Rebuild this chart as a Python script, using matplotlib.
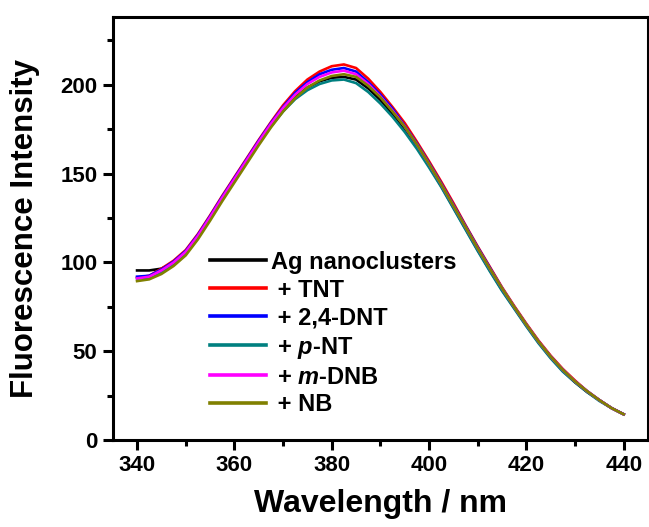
import numpy as np
import matplotlib
matplotlib.use("Agg")
import matplotlib.pyplot as plt
from matplotlib.ticker import MultipleLocator

plt.rcParams['font.family'] = ['Liberation Sans', 'DejaVu Sans']
plt.rcParams['font.weight'] = 'bold'
plt.rcParams['mathtext.fontset'] = 'custom'
plt.rcParams['mathtext.it'] = 'Liberation Sans:italic'
plt.rcParams['mathtext.rm'] = 'Liberation Sans:bold'

# wavelength grid (nm), 340-440 every 2.5 nm
wavelength = [340.0, 342.5, 345.0, 347.5, 350.0, 352.5, 355.0, 357.5, 360.0, 362.5,
              365.0, 367.5, 370.0, 372.5, 375.0, 377.5, 380.0, 382.5, 385.0, 387.5,
              390.0, 392.5, 395.0, 397.5, 400.0, 402.5, 405.0, 407.5, 410.0, 412.5,
              415.0, 417.5, 420.0, 422.5, 425.0, 427.5, 430.0, 432.5, 435.0, 437.5,
              440.0]

# fluorescence intensity
ag = [95.5, 95.5, 96.5, 100.0, 105.5, 114.5, 125.0, 136.0, 146.5, 157.0,
      167.5, 177.5, 186.0, 193.0, 198.5, 202.0, 204.0, 204.5, 203.0, 198.0,
      191.5, 183.5, 175.0, 165.0, 154.5, 143.0, 131.0, 119.0, 107.0, 95.5,
      84.5, 74.5, 64.5, 55.0, 46.5, 39.0, 32.5, 27.0, 22.5, 18.0,
      14.5]
tnt = [91.5, 92.5, 96.5, 101.0, 107.0, 116.0, 126.5, 137.5, 148.0, 158.5,
       169.0, 179.0, 188.5, 196.5, 203.0, 207.5, 210.5, 211.5, 209.5, 203.5,
       196.0, 187.5, 178.5, 168.0, 157.0, 145.5, 133.5, 121.0, 109.0, 97.5,
       86.0, 75.5, 65.5, 56.0, 47.5, 40.0, 33.5, 27.5, 22.5, 18.0,
       14.5]
dnt = [92.0, 92.5, 96.0, 100.5, 106.5, 115.5, 126.0, 137.0, 147.5, 158.0,
       168.5, 178.5, 187.5, 195.5, 201.5, 206.0, 208.5, 209.5, 207.5, 201.5,
       194.5, 186.5, 177.0, 167.0, 156.0, 144.5, 132.5, 120.5, 108.5, 97.0,
       85.5, 75.0, 65.0, 55.5, 47.0, 39.5, 33.0, 27.5, 22.5, 18.0,
       14.5]
pnt = [91.0, 91.5, 94.5, 99.0, 105.0, 114.0, 124.5, 135.5, 146.0, 156.5,
       167.0, 176.5, 185.0, 192.0, 197.0, 200.5, 202.5, 203.0, 201.0, 196.0,
       189.5, 182.0, 173.5, 164.0, 153.5, 142.5, 130.5, 118.5, 106.5, 95.0,
       84.0, 74.0, 64.0, 54.5, 46.0, 38.5, 32.5, 27.0, 22.0, 18.0,
       14.5]
mdnb = [91.0, 92.0, 95.5, 100.0, 106.0, 115.0, 125.5, 136.5, 147.0, 157.5,
        168.0, 178.0, 187.0, 194.5, 200.5, 204.5, 207.0, 208.0, 206.0, 200.5,
        193.5, 185.5, 176.5, 166.5, 155.5, 144.0, 132.0, 120.0, 108.0, 96.5,
        85.5, 75.0, 65.0, 55.5, 47.0, 39.5, 33.0, 27.5, 22.5, 18.0,
        14.5]
nb = [89.5, 90.5, 93.5, 98.0, 104.0, 113.0, 123.5, 134.5, 145.0, 155.5,
      166.0, 176.0, 185.0, 192.5, 198.5, 202.5, 205.0, 206.0, 204.5, 199.5,
      193.0, 185.0, 176.5, 166.5, 155.5, 144.0, 132.0, 120.0, 108.0, 96.5,
      85.5, 75.0, 65.0, 55.5, 47.0, 39.5, 33.0, 27.5, 22.5, 18.0,
      14.5]

series = [ag, tnt, dnt, pnt, mdnb, nb]
labels = ['Ag nanoclusters', ' + TNT', ' + 2,4-DNT', r' + $\it{p}$-NT',
          r' + $\it{m}$-DNB', ' + NB']
colors = ['#000000', '#ff0000', '#0000ff', '#008080', '#ff00ff', '#808000']

fig = plt.figure(figsize=(6.49, 5.27), dpi=100)
ax = fig.add_axes([0.1737, 0.165, 0.8248, 0.802])

for y, lab, c in zip(series, labels, colors):
    ax.plot(wavelength, y, color=c, lw=1.9, label=lab)

ax.set_xlim(335, 445)
ax.set_ylim(0, 238)
ax.xaxis.set_major_locator(MultipleLocator(20))
ax.xaxis.set_minor_locator(MultipleLocator(10))
ax.yaxis.set_major_locator(MultipleLocator(50))
ax.yaxis.set_minor_locator(MultipleLocator(25))

for s in ax.spines.values():
    s.set_linewidth(2.2)
ax.tick_params(which='major', direction='out', length=7, width=2.2,
               labelsize=16, pad=4)
ax.tick_params(which='minor', direction='out', length=4, width=2.2)
ax.tick_params(top=False, right=False, which='both')
for t in ax.get_xticklabels() + ax.get_yticklabels():
    t.set_fontweight('bold')

ax.set_xlabel('Wavelength / nm', fontsize=23, fontweight='bold')
ax.set_ylabel('Fluorescence Intensity', fontsize=22.5, fontweight='bold')
ax.xaxis.set_label_coords(0.5, -0.115)
ax.yaxis.set_label_coords(-0.135, 0.5)

leg = ax.legend(loc='upper left', bbox_to_anchor=(0.182, 0.448), frameon=False,
                fontsize=17, handlelength=2.35, handletextpad=0.22,
                labelspacing=0.21, borderpad=0, borderaxespad=0)
for line in leg.get_lines():
    line.set_linewidth(2.6)

fig.savefig('out.png', dpi=100)
